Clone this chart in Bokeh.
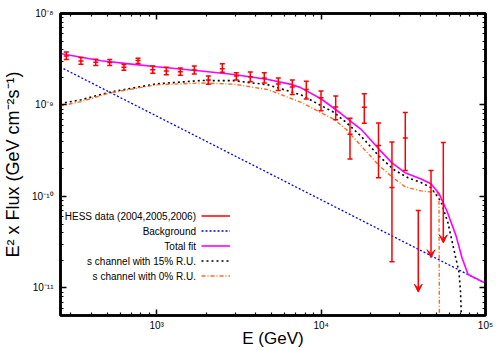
import math
from bokeh.plotting import figure
from bokeh.models import (Range1d, LogAxis, FixedTicker, CustomJSTickFormatter, Label,
                          Legend, LegendItem, ColumnDataSource, Arrow, VeeHead)
from bokeh.embed import file_html
from bokeh.resources import INLINE

# ---------------- data ----------------
# HESS data points: energy (GeV), E^2 x flux, lower and upper end of error bar
E_data = [282, 346, 426, 518, 632, 770, 946, 1144, 1392, 1693, 2061, 2506, 3049,
          3708, 4512, 5491, 6680, 8128, 9986, 12270, 14990, 18310, 22340, 26980, 32510]
F_data = [3.44e-9, 3.03e-9, 2.94e-9, 2.92e-9, 2.58e-9, 3.06e-9, 2.43e-9, 2.35e-9, 2.31e-9,
          2.41e-9, 1.88e-9, 2.49e-9, 2.07e-9, 2.04e-9, 1.97e-9, 1.70e-9, 1.57e-9, 1.48e-9,
          1.20e-9, 9.48e-10, 4.79e-10, 9.44e-10, 3.60e-10, 1.25e-10, 4.37e-10]
F_lo = [3.14e-9, 2.79e-9, 2.71e-9, 2.71e-9, 2.39e-9, 2.84e-9, 2.22e-9, 2.14e-9, 2.11e-9,
        2.18e-9, 1.69e-9, 2.28e-9, 1.88e-9, 1.79e-9, 1.74e-9, 1.44e-9, 1.30e-9, 1.16e-9,
        8.63e-10, 6.90e-10, 2.57e-10, 6.30e-10, 1.60e-10, 1.94e-11, 1.92e-10]
F_hi = [3.79e-9, 3.30e-9, 3.16e-9, 3.14e-9, 2.77e-9, 3.24e-9, 2.66e-9, 2.58e-9, 2.53e-9,
        2.66e-9, 2.07e-9, 2.82e-9, 2.25e-9, 2.29e-9, 2.25e-9, 1.97e-9, 1.88e-9, 1.82e-9,
        1.42e-9, 1.25e-9, 7.18e-10, 1.33e-9, 6.34e-10, 3.93e-10, 8.27e-10]

# upper limits: energy, limit value, arrow tip
E_ul = [39000, 46620, 55380]
F_ul = [7.02e-11, 1.92e-10, 3.90e-10]
F_ul_tip = [9.0e-12, 2.14e-11, 3.11e-11]

# background power law
E_bg = [258, 100000]
F_bg = [2.61e-9, 1.12e-11]

# total fit
E_fit = [258, 347, 458, 748, 1000, 1858, 2951, 4753, 6561, 7551, 9977, 13213, 17498,
         22182, 26977, 32359, 40551, 46559, 52119, 58345, 66222, 71945, 78343, 100000]
F_fit = [3.65e-9, 3.33e-9, 3.05e-9, 2.76e-9, 2.62e-9, 2.35e-9, 2.15e-9, 1.90e-9, 1.68e-9,
         1.54e-9, 1.17e-9, 8.07e-10, 5.42e-10, 3.38e-10, 2.33e-10, 1.82e-10, 1.55e-10,
         1.38e-10, 1.08e-10, 6.90e-11, 3.71e-11, 2.14e-11, 1.40e-11, 1.13e-11]

# s channel with 15% R.U.
E_s15 = [258, 347, 527, 991, 1858, 2951, 4753, 7551, 11995, 14191, 17498, 22491, 27733,
         33806, 40551, 46559, 53580, 59156, 64269, 69024, 70500, 71945]
F_s15 = [1.035e-9, 1.14e-9, 1.39e-9, 1.70e-9, 1.85e-9, 1.845e-9, 1.66e-9, 1.29e-9, 8.28e-10,
         6.46e-10, 4.56e-10, 2.77e-10, 1.96e-10, 1.60e-10, 1.42e-10, 1.25e-10, 8.83e-11,
         5.12e-11, 2.62e-11, 1.48e-11, 9.0e-12, 3.0e-12]

# s channel with 0% R.U.
E_s0 = [258, 347, 513, 991, 1858, 2951, 4753, 7551, 11995, 14191, 17498, 22491, 26977,
        32359, 40551, 46559, 50699, 52119, 52481]
F_s0 = [9.73e-10, 1.09e-9, 1.35e-9, 1.66e-9, 1.74e-9, 1.69e-9, 1.47e-9, 1.07e-9, 6.95e-10,
        5.42e-10, 3.58e-10, 2.18e-10, 1.64e-10, 1.28e-10, 1.15e-10, 1.12e-10, 1.11e-10,
        1.0e-10, 3.0e-12]

x_ticks = [1e3, 1e4, 1e5]
x_tick_labels = ["10³", "10⁴", "10⁵"]
y_ticks = [1e-11, 1e-10, 1e-9, 1e-8]
y_tick_labels = ["10⁻¹¹", "10⁻¹⁰", "10⁻⁹", "10⁻⁸"]

legend_texts = ["HESS data (2004,2005,2006)", "Background", "Total fit",
                "s channel with 15% R.U.", "s channel with 0% R.U."]

FONT = "Liberation Sans"

# ---------------- figure ----------------
p = figure(width=500, height=350, x_axis_type="log", y_axis_type="log",
           x_range=Range1d(260, 1e5), y_range=Range1d(5e-12, 1e-8),
           output_backend="svg", toolbar_location=None,
           min_border_left=59, min_border_right=15, min_border_top=13, min_border_bottom=32)
p.xgrid.visible = False
p.ygrid.visible = False
p.outline_line_color = "black"
p.outline_line_width = 2.5
p.background_fill_color = "white"
p.border_fill_color = "white"

x_minor = [m * 10 ** k for k in (2, 3, 4) for m in range(2, 10)]
y_minor = [m * 10.0 ** k for k in (-12, -11, -10, -9) for m in range(2, 10)]

FMT = ("const i = tv.findIndex(v => Math.abs(Math.log10(v) - Math.log10(tick)) < 1e-6);"
       "return i >= 0 ? tl[i] : '';")


def style_axis(ax, ticks, minors, labels, standoff, show):
    ax.ticker = FixedTicker(ticks=ticks, minor_ticks=minors)
    ax.major_tick_in = 6
    ax.major_tick_out = 0
    ax.minor_tick_in = 3
    ax.minor_tick_out = 0
    ax.major_tick_line_width = 1.5
    ax.minor_tick_line_width = 1.2
    ax.axis_line_width = 2.5
    ax.axis_line_color = "black"
    ax.major_label_standoff = standoff
    if show:
        ax.formatter = CustomJSTickFormatter(args=dict(tv=ticks, tl=labels), code=FMT)
        ax.major_label_text_font = FONT
        ax.major_label_text_font_size = "10px"
        ax.major_label_text_color = "black"
    else:
        ax.formatter = CustomJSTickFormatter(code="return '';")
        ax.major_label_text_font_size = "0px"


xax = p.below[0]
yax = p.left[0]
style_axis(xax, x_ticks, x_minor, x_tick_labels, 4, True)
style_axis(yax, y_ticks, y_minor, y_tick_labels, 7, True)

yax.axis_label = "E² x Flux (GeV cm⁻²s⁻¹)"
yax.axis_label_text_font = FONT
yax.axis_label_text_font_size = "18px"
yax.axis_label_text_font_style = "normal"
yax.axis_label_text_color = "black"
yax.axis_label_standoff = 6

xax.axis_label = "E (GeV)"
xax.axis_label_text_font = FONT
xax.axis_label_text_font_size = "17px"
xax.axis_label_text_font_style = "normal"
xax.axis_label_text_color = "black"
xax.axis_label_standoff = -5

top_ax = LogAxis()
right_ax = LogAxis()
style_axis(top_ax, x_ticks, x_minor, x_tick_labels, 0, False)
style_axis(right_ax, y_ticks, y_minor, y_tick_labels, 0, False)
p.add_layout(top_ax, "above")
p.add_layout(right_ax, "right")

# ---------------- curves ----------------
bg_r = p.line(E_bg, F_bg, line_color="#0000ff", line_dash="2 2", line_width=1.3)
s15_r = p.line(E_s15, F_s15, line_color="black", line_dash="2 3", line_width=1.6)
s0_r = p.line(E_s0, F_s0, line_color="#ff6a1a", line_dash="4 2 1 2", line_width=1.4)
fit_r = p.line(E_fit, F_fit, line_color="#ff00ff", line_width=1.6)

# ---------------- data points ----------------
src = ColumnDataSource(dict(E=E_data, F=F_data, lo=F_lo, hi=F_hi))
seg_r = p.segment(x0="E", y0="lo", x1="E", y1="hi", source=src, line_color="red", line_width=1.5)
for col in ("lo", "hi", "F"):
    p.scatter(x="E", y=col, source=src, marker="dash", size=5, line_color="red", line_width=1.5)

ul_src = ColumnDataSource(dict(E=E_ul, F=F_ul, tip=F_ul_tip))
p.add_layout(Arrow(end=VeeHead(size=8, fill_color="red", line_color="red", line_width=1),
                   x_start="E", y_start="F", x_end="E", y_end="tip", source=ul_src,
                   line_color="red", line_width=1.5))
p.scatter(x="E", y="F", source=ul_src, marker="dash", size=5, line_color="red", line_width=1.5)

# legend-only marker (vertical tick in the error-bar sample)
vtick_r = p.scatter(x=[], y=[], marker="dash", angle=math.pi / 2, size=7,
                    line_color="red", line_width=1.5)

# ---------------- legend ----------------
legend = Legend(items=[LegendItem(label=" ", renderers=[seg_r, vtick_r]),
                       LegendItem(label=" ", renderers=[bg_r]),
                       LegendItem(label=" ", renderers=[fit_r]),
                       LegendItem(label=" ", renderers=[s15_r]),
                       LegendItem(label=" ", renderers=[s0_r])],
                location=(141, 32), glyph_width=29, glyph_height=15, spacing=0,
                padding=0, margin=0, label_standoff=0, label_width=0, label_height=0,
                label_text_font_size="1px", border_line_alpha=0, background_fill_alpha=0)
p.add_layout(legend)

for i, t in enumerate(legend_texts):
    p.add_layout(Label(x=135.5, y=99.5 - 15 * i, x_units="screen", y_units="screen", text=t,
                       text_align="right", text_baseline="middle", text_font=FONT,
                       text_font_size="10px", text_color="black"))

with open("out.html", "w", encoding="utf-8") as f:
    f.write(file_html(p, INLINE, "plot"))
